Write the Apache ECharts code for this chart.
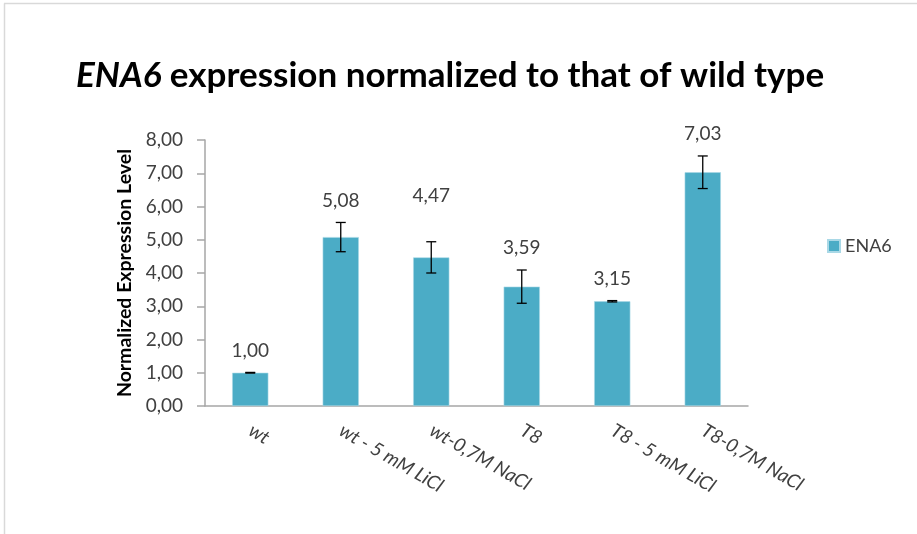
<!DOCTYPE html>
<html>
<head>
<meta charset="utf-8">
<script src="https://cdn.jsdelivr.net/npm/echarts@6.0.0/dist/echarts.min.js"></script>
<style>
  html, body { margin: 0; padding: 0; background: #fff; }
  #chart { width: 917px; height: 534px; }
</style>
</head>
<body>
<div id="chart"></div>
<script>
// chart data
const categories = ["wt", "wt - 5 mM LiCl", "wt-0,7M NaCl", "T8", "T8 - 5 mM LiCl", "T8-0,7M NaCl"];
const values = [1.00, 5.08, 4.47, 3.59, 3.15, 7.03];
const errors = [0.01, 0.44, 0.47, 0.50, 0.02, 0.49];
const yTicks = [0, 1, 2, 3, 4, 5, 6, 7, 8];

const barColor = "#4bacc6";
const textColor = "#404040";
const fontFamily = "Lato, 'Open Sans', sans-serif";

const chart = echarts.init(document.getElementById("chart"));

function fmt(v) {
  return v.toFixed(2).replace(".", ",");
}

// error bars + value labels drawn above them
function renderErr(params, api) {
  const i = api.value(0);
  const v = api.value(1);
  const e = api.value(2);
  const top = api.coord([i, v + e]);
  const bot = api.coord([i, v - e]);
  const cap = 5;
  const lift = i === 2 ? 46 : 22;
  return {
    type: "group",
    children: [
      { type: "line", shape: { x1: top[0], y1: top[1], x2: bot[0], y2: bot[1] },
        style: { stroke: "#000", lineWidth: 1.3 } },
      { type: "line", shape: { x1: top[0] - cap, y1: top[1], x2: top[0] + cap, y2: top[1] },
        style: { stroke: "#000", lineWidth: 1.3 } },
      { type: "line", shape: { x1: bot[0] - cap, y1: bot[1], x2: bot[0] + cap, y2: bot[1] },
        style: { stroke: "#000", lineWidth: 1.3 } },
      { type: "text", x: top[0], y: top[1] - lift,
        style: { text: fmt(v), fill: textColor, font: "19px " + fontFamily,
                 align: "center", verticalAlign: "middle" } }
    ]
  };
}

chart.setOption({
  animation: false,
  title: {
    text: "{i|ENA6}{b| expression normalized to that of wild type}",
    left: 76,
    top: 58,
    padding: 0,
    textStyle: {
      rich: {
        i: { fontFamily: fontFamily, fontSize: 35, fontWeight: "bold", fontStyle: "italic", color: "#000" },
        b: { fontFamily: fontFamily, fontSize: 35, fontWeight: "bold", color: "#000" }
      }
    }
  },
  legend: {
    data: ["ENA6"],
    left: 822,
    top: 232,
    icon: "rect",
    itemWidth: 12,
    itemHeight: 12,
    itemGap: 6,
    textStyle: { fontFamily: fontFamily, fontSize: 18, color: textColor }
  },
  grid: { left: 205, right: 169, top: 140, bottom: 128 },
  xAxis: {
    type: "category",
    data: categories,
    axisLine: { lineStyle: { color: "#a6a6a6", width: 1.5 } },
    axisTick: { show: false },
    axisLabel: {
      interval: 0,
      rotate: -30,
      margin: 23,
      fontFamily: fontFamily,
      fontStyle: "italic",
      fontSize: 19,
      color: textColor
    }
  },
  yAxis: {
    type: "value",
    min: yTicks[0],
    max: yTicks[yTicks.length - 1],
    interval: 1,
    name: "Normalized Expression Level",
    nameLocation: "middle",
    nameGap: 66,
    nameTextStyle: { fontFamily: fontFamily, fontSize: 19.5, fontWeight: "bold", color: "#000" },
    axisLine: { show: true, lineStyle: { color: "#a6a6a6", width: 1.5 } },
    axisTick: { show: true, length: 8, lineStyle: { color: "#a6a6a6", width: 1.5 } },
    splitLine: { show: false },
    axisLabel: {
      margin: 22,
      fontFamily: fontFamily,
      fontSize: 19,
      color: textColor,
      formatter: fmt
    }
  },
  series: [
    {
      name: "ENA6",
      type: "bar",
      data: values,
      barWidth: "40%",
      itemStyle: { color: barColor, borderColor: "#a9d8e6", borderWidth: 0.6 }
    },
    {
      type: "custom",
      renderItem: renderErr,
      data: values.map((v, i) => [i, v, errors[i]]),
      z: 5,
      silent: true
    }
  ],
  graphic: [
    { type: "line", shape: { x1: 4, y1: 3.5, x2: 917, y2: 3.5 }, style: { stroke: "#d9d9d9", lineWidth: 1.5 } },
    { type: "line", shape: { x1: 4.5, y1: 3.5, x2: 4.5, y2: 534 }, style: { stroke: "#d9d9d9", lineWidth: 1.5 } }
  ]
});
</script>
</body>
</html>
